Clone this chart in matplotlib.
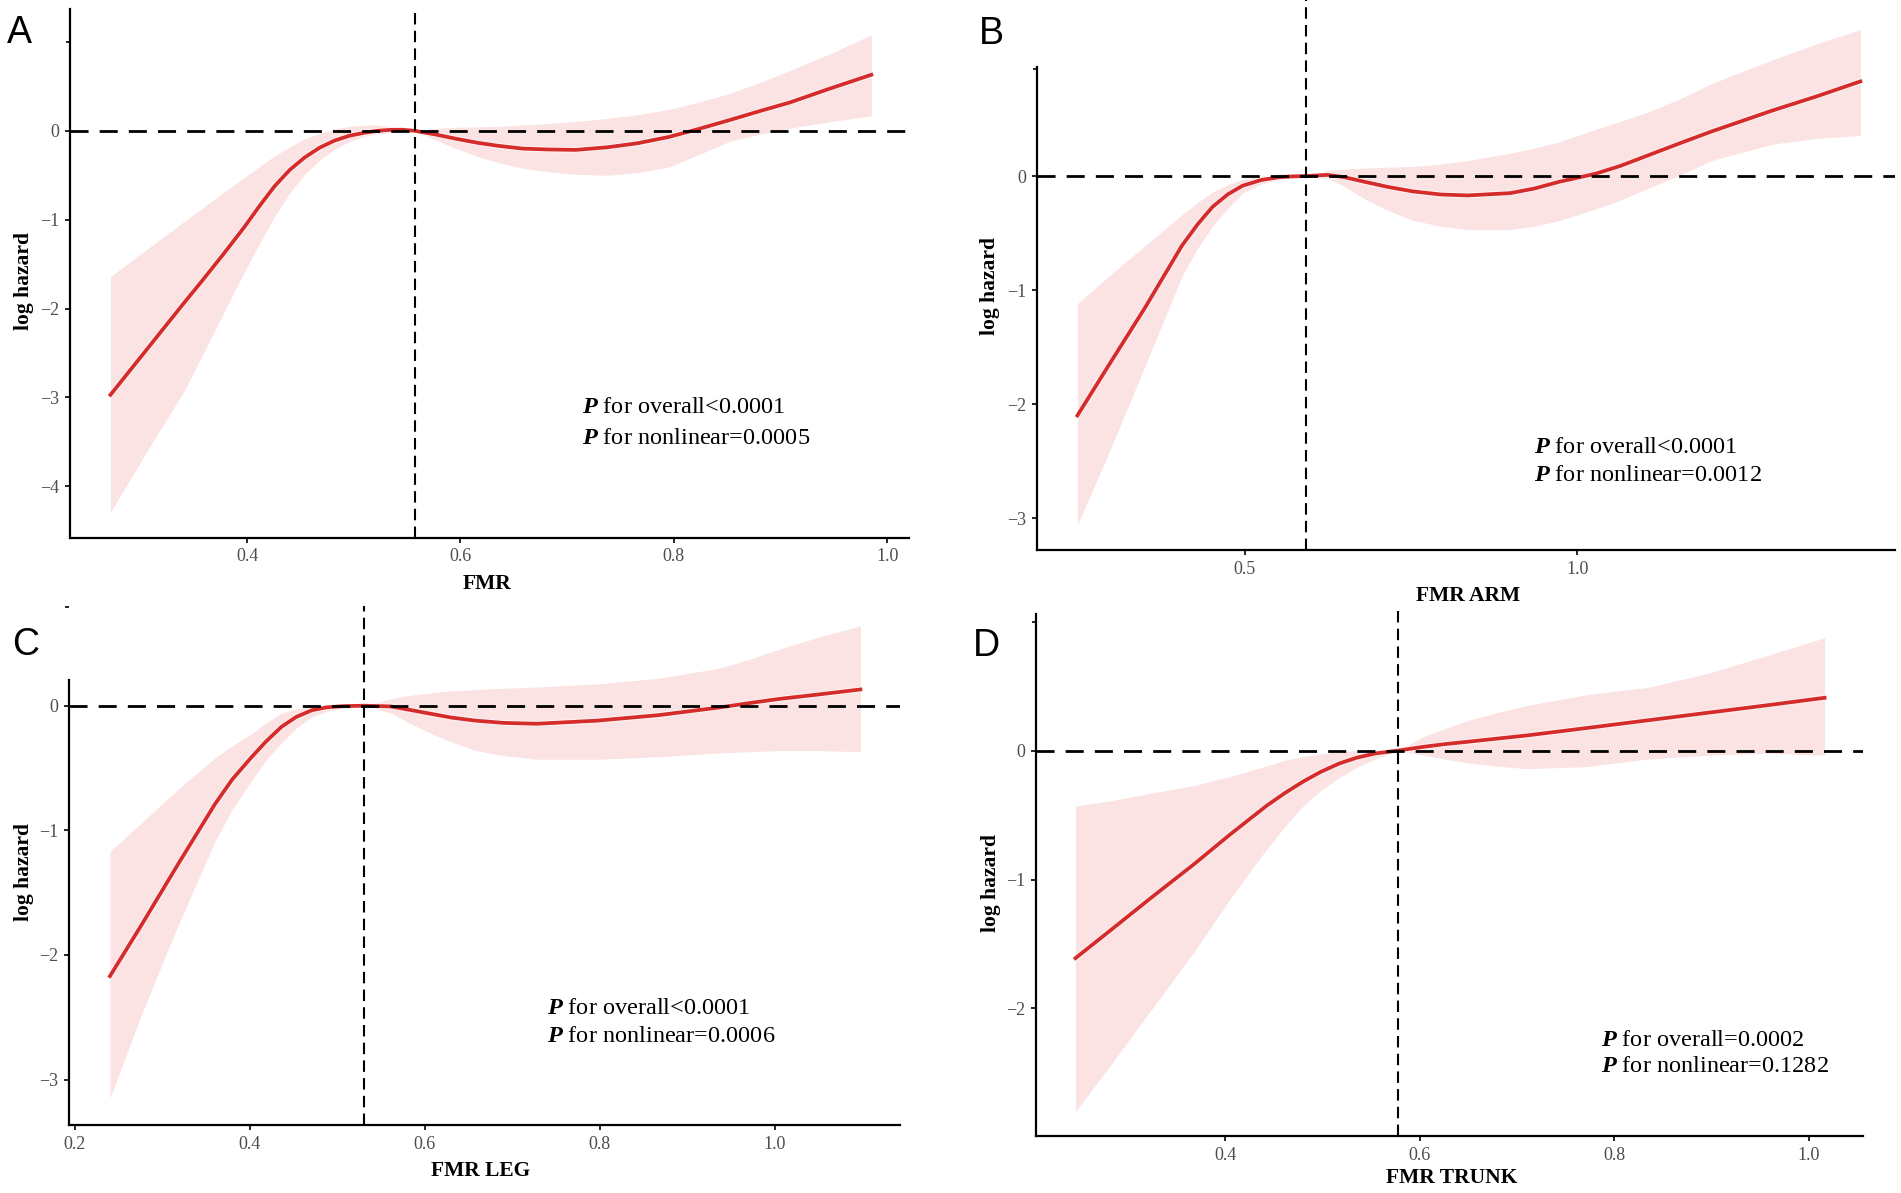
import numpy as np
import matplotlib.pyplot as plt
import matplotlib.patheffects as pe

W, H = 1901, 1193

plt.rcParams['font.family'] = ['Liberation Serif', 'DejaVu Serif']
plt.rcParams['mathtext.fontset'] = 'custom'
plt.rcParams['mathtext.it'] = 'Liberation Serif:italic:bold'
plt.rcParams['mathtext.rm'] = 'Liberation Serif'

RED = '#d62b2b'
BAND = '#fce3e3'

# -----------------------------
# Panel A: FMR
# -----------------------------
a_x = [0.272, 0.292, 0.312, 0.340, 0.357, 0.377, 0.397, 0.412, 0.426, 0.440,
       0.454, 0.468, 0.482, 0.496, 0.511, 0.522, 0.534, 0.545, 0.557, 0.576,
       0.596, 0.616, 0.636, 0.658, 0.681, 0.708, 0.738, 0.766, 0.795, 0.823,
       0.852, 0.880, 0.909, 0.945, 0.985]
a_fit = [-2.97, -2.67, -2.37, -1.95, -1.70, -1.40, -1.09, -0.84, -0.62, -0.44,
         -0.30, -0.19, -0.11, -0.055, -0.02, 0.0, 0.01, 0.012, 0.0, -0.04,
         -0.09, -0.135, -0.17, -0.20, -0.21, -0.215, -0.185, -0.14, -0.07, 0.02,
         0.12, 0.22, 0.32, 0.47, 0.63]
a_hi = [-1.64, -1.46, -1.28, -1.03, -0.88, -0.70, -0.53, -0.40, -0.28, -0.18,
        -0.09, -0.03, 0.02, 0.05, 0.065, 0.065, 0.05, 0.03, 0.0, 0.025,
        0.04, 0.045, 0.05, 0.065, 0.08, 0.105, 0.14, 0.18, 0.24, 0.32,
        0.42, 0.54, 0.68, 0.86, 1.08]
a_lo = [-4.29, -3.89, -3.49, -2.95, -2.55, -2.07, -1.60, -1.26, -0.96, -0.70,
        -0.49, -0.33, -0.21, -0.12, -0.06, -0.035, -0.02, -0.008, 0.0, -0.10,
        -0.20, -0.29, -0.36, -0.42, -0.46, -0.49, -0.50, -0.47, -0.41, -0.27,
        -0.12, -0.04, 0.03, 0.10, 0.17]
a_ref = 0.557

# -----------------------------
# Panel B: FMR ARM
# -----------------------------
b_x = [0.249, 0.296, 0.351, 0.406, 0.430, 0.452, 0.475, 0.497, 0.525, 0.552,
       0.572, 0.593, 0.625, 0.650, 0.680, 0.715, 0.753, 0.795, 0.835, 0.899,
       0.935, 0.973, 1.027, 1.065, 1.110, 1.155, 1.201, 1.293, 1.360, 1.425]
b_fit = [-2.10, -1.66, -1.15, -0.61, -0.42, -0.27, -0.16, -0.085, -0.035, -0.01,
         -0.003, 0.0, 0.01, -0.01, -0.05, -0.095, -0.135, -0.162, -0.17, -0.15,
         -0.11, -0.05, 0.02, 0.09, 0.19, 0.29, 0.39, 0.575, 0.70, 0.83]
b_hi = [-1.12, -0.88, -0.61, -0.34, -0.23, -0.14, -0.075, -0.03, 0.0, 0.02,
        0.015, 0.0, 0.05, 0.062, 0.07, 0.077, 0.085, 0.105, 0.135, 0.20,
        0.245, 0.30, 0.41, 0.48, 0.57, 0.68, 0.81, 1.02, 1.16, 1.285]
b_lo = [-3.06, -2.43, -1.66, -0.88, -0.63, -0.44, -0.28, -0.15, -0.07, -0.03,
        -0.012, 0.0, -0.02, -0.09, -0.20, -0.30, -0.39, -0.44, -0.47, -0.47,
        -0.44, -0.39, -0.29, -0.21, -0.10, 0.01, 0.135, 0.28, 0.33, 0.355]
b_ref = 0.593

# -----------------------------
# Panel C: FMR LEG
# -----------------------------
c_x = [0.240, 0.276, 0.318, 0.360, 0.380, 0.401, 0.418, 0.436, 0.453, 0.471,
       0.488, 0.506, 0.531, 0.561, 0.580, 0.603, 0.630, 0.658, 0.690, 0.728,
       0.797, 0.867, 0.936, 0.970, 1.006, 1.050, 1.098]
c_fit = [-2.17, -1.76, -1.27, -0.79, -0.59, -0.42, -0.29, -0.17, -0.09, -0.036,
         -0.013, -0.004, 0.0, -0.006, -0.03, -0.06, -0.095, -0.12, -0.138, -0.145,
         -0.12, -0.076, -0.015, 0.02, 0.055, 0.09, 0.13]
c_hi = [-1.17, -0.94, -0.67, -0.42, -0.32, -0.23, -0.14, -0.06, -0.025, -0.01,
        0.0, 0.015, 0.0, 0.055, 0.08, 0.10, 0.118, 0.13, 0.14, 0.15,
        0.175, 0.22, 0.30, 0.37, 0.455, 0.55, 0.64]
c_lo = [-3.15, -2.48, -1.76, -1.09, -0.83, -0.61, -0.44, -0.30, -0.18, -0.09,
        -0.045, -0.024, 0.0, -0.06, -0.13, -0.21, -0.29, -0.36, -0.40, -0.43,
        -0.43, -0.41, -0.38, -0.37, -0.36, -0.36, -0.37]
c_ref = 0.531

# -----------------------------
# Panel D: FMR TRUNK
# -----------------------------
d_x = [0.246, 0.281, 0.324, 0.368, 0.405, 0.442, 0.461, 0.480, 0.498, 0.517,
       0.535, 0.554, 0.577, 0.604, 0.625, 0.648, 0.679, 0.710, 0.772, 0.834,
       0.896, 0.958, 1.016]
d_fit = [-1.61, -1.40, -1.14, -0.88, -0.65, -0.43, -0.33, -0.24, -0.165, -0.10,
         -0.055, -0.022, 0.0, 0.03, 0.05, 0.068, 0.093, 0.118, 0.176, 0.235,
         0.294, 0.353, 0.41]
d_hi = [-0.43, -0.39, -0.33, -0.27, -0.20, -0.12, -0.075, -0.045, -0.025, -0.01,
        0.0, 0.005, 0.0, 0.11, 0.17, 0.23, 0.295, 0.35, 0.435, 0.49,
        0.60, 0.74, 0.876]
d_lo = [-2.80, -2.45, -2.01, -1.56, -1.15, -0.77, -0.59, -0.43, -0.31, -0.21,
        -0.13, -0.065, 0.0, -0.035, -0.065, -0.094, -0.12, -0.14, -0.124, -0.065,
        -0.035, -0.02, -0.035]
d_ref = 0.577

letters = ['A', 'B', 'C', 'D']
xlabels = ['FMR', 'FMR ARM', 'FMR LEG', 'FMR TRUNK']
p_overall = ['<0.0001', '<0.0001', '<0.0001', '=0.0002']
p_nonlinear = ['=0.0005', '=0.0012', '=0.0006', '=0.1282']
xticks = [[0.4, 0.6, 0.8, 1.0], [0.5, 1.0], [0.2, 0.4, 0.6, 0.8, 1.0],
          [0.4, 0.6, 0.8, 1.0]]
yticks = [[-4, -3, -2, -1, 0], [-3, -2, -1, 0], [-3, -2, -1, 0], [-2, -1, 0]]

series = [(a_x, a_fit, a_lo, a_hi, a_ref), (b_x, b_fit, b_lo, b_hi, b_ref),
          (c_x, c_fit, c_lo, c_hi, c_ref), (d_x, d_fit, d_lo, d_hi, d_ref)]

# layout in pixels: left, right, top, bottom, axis limits, spine top, extra tick
layout = [
    dict(box=(69.5, 909, 9, 537.5), xlim=(0.2336, 1.0203), ylim=(-4.575, 1.37),
         spine_top=1.37, extra=1.0,
         letter=(19, 33), xlab=(487, 584), ylab=(24, 281),
         ptxt=(582, 408, 438)),
    dict(box=(1037, 1895, 0, 550), xlim=(0.1883, 1.477), ylim=(-3.28, 1.544),
         spine_top=0.956, extra=0.94,
         letter=(991, 34), xlab=(1468, 596), ylab=(990, 286),
         ptxt=(1534, 447, 476)),
    dict(box=(69.3, 899.5, 606, 1125), xlim=(0.1935, 1.1427), ylim=(-3.365, 0.80),
         spine_top=0.21, extra=0.795,
         letter=(26, 645), xlab=(481, 1171), ylab=(24, 872),
         ptxt=(547, 1008, 1036)),
    dict(box=(1036, 1863, 605, 1136), xlim=(0.2054, 1.0555), ylim=(-2.99, 1.13),
         spine_top=1.06, extra=1.0,
         letter=(986, 646), xlab=(1452, 1178), ylab=(991, 883),
         ptxt=(1601, 1040, 1067)),
]


def fx(px):
    return px / W


def fy(py):
    return 1 - py / H


fig = plt.figure(figsize=(W / 100, H / 100), dpi=100)

for i, (lay, (x, fit, lo, hi, ref)) in enumerate(zip(layout, series)):
    l, r, t, b = lay['box']
    ax = fig.add_axes([fx(l), fy(b), (r - l) / W, (b - t) / H])

    ax.fill_between(x, lo, hi, color=BAND, lw=0, zorder=1)
    ax.plot(x, fit, color=RED, lw=2.7, zorder=3, solid_joinstyle='round',
            path_effects=[pe.withStroke(linewidth=3.9, foreground='white',
                                        alpha=0.7)])
    ax.axhline(0, color='black', lw=2.0, ls=(0, (6.5, 4)), zorder=4)
    ax.axvline(ref, color='black', lw=1.5, ls=(0, (5.5, 3)), zorder=4)

    ax.set_xlim(*lay['xlim'])
    ax.set_ylim(*lay['ylim'])
    ax.set_xticks(xticks[i])
    ax.set_xticklabels([f'{v:.1f}' for v in xticks[i]])
    ax.set_yticks(yticks[i])
    ax.set_yticks([lay['extra']], minor=True)
    ax.tick_params(axis='both', which='major', labelsize=13, length=3.6,
                   width=1.2, pad=4, colors='black', labelcolor='#4d4d4d')
    ax.tick_params(axis='y', which='minor', length=3.0, width=1.2,
                   colors='black')
    ax.tick_params(axis='x', which='minor', length=0)

    for s in ['top', 'right']:
        ax.spines[s].set_visible(False)
    for s in ['left', 'bottom']:
        ax.spines[s].set_linewidth(1.6)
    ax.spines['left'].set_bounds(lay['ylim'][0], lay['spine_top'])
    ax.patch.set_alpha(0)

    lx, ly = lay['letter']
    fig.text(fx(lx), fy(ly), letters[i], family='Liberation Sans',
             fontsize=27, ha='center', va='center')
    xx, xy = lay['xlab']
    fig.text(fx(xx), fy(xy), xlabels[i], fontsize=15.5, fontweight='bold',
             ha='center', va='center')
    yx, yy = lay['ylab']
    fig.text(fx(yx), fy(yy), 'log hazard', fontsize=15.5, fontweight='bold',
             ha='center', va='center', rotation=90)
    px_, py1, py2 = lay['ptxt']
    fig.text(fx(px_), fy(py1), r'$\mathit{P}$ for overall' + p_overall[i],
             fontsize=17.5, ha='left', va='center')
    fig.text(fx(px_), fy(py2), r'$\mathit{P}$ for nonlinear' + p_nonlinear[i],
             fontsize=17.5, ha='left', va='center')

fig.savefig('out.png', dpi=100)
